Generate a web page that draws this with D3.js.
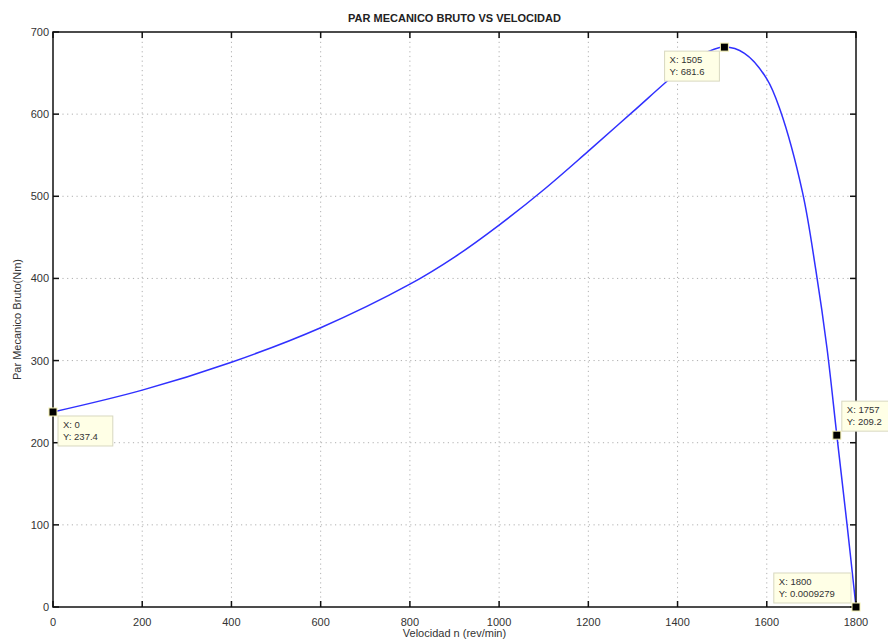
<!DOCTYPE html>
<html>
<head>
<meta charset="utf-8">
<script src="https://cdn.jsdelivr.net/npm/d3@7"></script>
<style>
  body { margin: 0; background: #fff; }
  svg { font-family: "Liberation Sans", Arial, sans-serif; }
  .grid line { stroke: #b0b0b0; stroke-dasharray: 1.2 3.5; stroke-width: 1; }
  .tick-label { font-size: 11px; fill: #333; }
  .tip text { font-size: 9.5px; fill: #333; }
</style>
</head>
<body>
<div id="chart"></div>
<script>
// velocidad (rev/min) y par (Nm)
var speed  = [0, 200, 400, 600, 800, 900, 1000, 1100, 1200, 1300, 1400, 1450, 1505, 1550, 1600, 1630, 1680, 1710, 1735, 1757, 1780, 1800];
var torque = [237.4, 264, 298, 340, 393, 426, 465, 508, 555, 603, 651, 671, 681.6, 674, 643, 605, 505, 410, 315, 209.2, 100, 0.0009279];

var xTicks = [0, 200, 400, 600, 800, 1000, 1200, 1400, 1600, 1800];
var yTicks = [0, 100, 200, 300, 400, 500, 600, 700];

// data tips
var tipX = [0, 1505, 1757, 1800];
var tipY = ["237.4", "681.6", "209.2", "0.0009279"];
var tipSide = ["br", "bl", "tr", "tl"];

var W = 888, H = 641;
var margin = { top: 32, right: 32, bottom: 34, left: 53 };
var width = W - margin.left - margin.right,
    height = H - margin.top - margin.bottom;

var svg = d3.select("#chart").append("svg")
  .attr("width", W).attr("height", H);

var x = d3.scaleLinear().domain([0, 1800]).range([margin.left, margin.left + width]);
var y = d3.scaleLinear().domain([0, 700]).range([margin.top + height, margin.top]);

// grid
var grid = svg.append("g").attr("class", "grid");
grid.selectAll("line.v").data(xTicks.slice(1, -1)).enter().append("line")
  .attr("x1", d => x(d)).attr("x2", d => x(d))
  .attr("y1", y(0)).attr("y2", y(700));
grid.selectAll("line.h").data(yTicks.slice(1, -1)).enter().append("line")
  .attr("x1", x(0)).attr("x2", x(1800))
  .attr("y1", d => y(d)).attr("y2", d => y(d));

// curve
var data = speed.map(function (s, i) { return { s: s, t: torque[i] }; });
var line = d3.line()
  .x(d => x(d.s)).y(d => y(d.t))
  .curve(d3.curveCatmullRom.alpha(0.5));
svg.append("path").datum(data)
  .attr("d", line)
  .attr("fill", "none")
  .attr("stroke", "#3030ff")
  .attr("stroke-width", 1.5);

// axes (box with inward ticks, like matlab)
var tk = 6;
var axes = svg.append("g").attr("stroke", "#111").attr("stroke-width", 1.5);
axes.append("rect")
  .attr("x", x(0)).attr("y", y(700))
  .attr("width", x(1800) - x(0)).attr("height", y(0) - y(700))
  .attr("fill", "none");
xTicks.forEach(function (d) {
  axes.append("line").attr("x1", x(d)).attr("x2", x(d)).attr("y1", y(0)).attr("y2", y(0) - tk);
  axes.append("line").attr("x1", x(d)).attr("x2", x(d)).attr("y1", y(700)).attr("y2", y(700) + tk);
});
yTicks.forEach(function (d) {
  axes.append("line").attr("x1", x(0)).attr("x2", x(0) + tk).attr("y1", y(d)).attr("y2", y(d));
  axes.append("line").attr("x1", x(1800)).attr("x2", x(1800) - tk).attr("y1", y(d)).attr("y2", y(d));
});

svg.selectAll("text.xt").data(xTicks).enter().append("text")
  .attr("class", "tick-label")
  .attr("x", d => x(d)).attr("y", y(0) + 19)
  .attr("text-anchor", "middle")
  .text(d => d);
svg.selectAll("text.yt").data(yTicks).enter().append("text")
  .attr("class", "tick-label")
  .attr("x", x(0) - 4).attr("y", d => y(d) + 4)
  .attr("text-anchor", "end")
  .text(d => d);

// titles
svg.append("text")
  .attr("x", (x(0) + x(1800)) / 2).attr("y", 22)
  .attr("text-anchor", "middle")
  .attr("font-size", "11px").attr("font-weight", "bold").attr("fill", "#222")
  .text("PAR MECANICO BRUTO VS VELOCIDAD");
svg.append("text")
  .attr("x", (x(0) + x(1800)) / 2).attr("y", 637)
  .attr("text-anchor", "middle")
  .attr("font-size", "11px").attr("fill", "#333")
  .text("Velocidad n (rev/min)");
svg.append("text")
  .attr("transform", "translate(21," + ((y(0) + y(700)) / 2) + ") rotate(-90)")
  .attr("text-anchor", "middle")
  .attr("font-size", "11px").attr("fill", "#333")
  .text("Par Mecanico Bruto(Nm)");

// data tips
tipX.forEach(function (s, i) {
  var t = +tipY[i];
  var px = x(s), py = y(t);
  var lines = ["X: " + s, "Y: " + tipY[i]];
  var bw = Math.max(48, 10 + lines[1].length * 5.6), bh = 30;
  var side = tipSide[i];
  var bx = side[1] === "r" ? px + 5 : px - 5 - bw;
  var by = side[0] === "b" ? py + 4 : py - 4 - bh;
  var g = svg.append("g").attr("class", "tip");
  g.append("rect")
    .attr("x", bx).attr("y", by).attr("width", bw).attr("height", bh)
    .attr("fill", "#ffffe6").attr("stroke", "#d8d8c0").attr("stroke-width", 1);
  lines.forEach(function (l, j) {
    g.append("text").attr("x", bx + 5).attr("y", by + 12 + j * 12).text(l);
  });
  g.append("rect")
    .attr("x", px - 4).attr("y", py - 4).attr("width", 8).attr("height", 8)
    .attr("fill", "#000").attr("stroke", "#f4f0b0").attr("stroke-width", 1);
});
</script>
</body>
</html>
